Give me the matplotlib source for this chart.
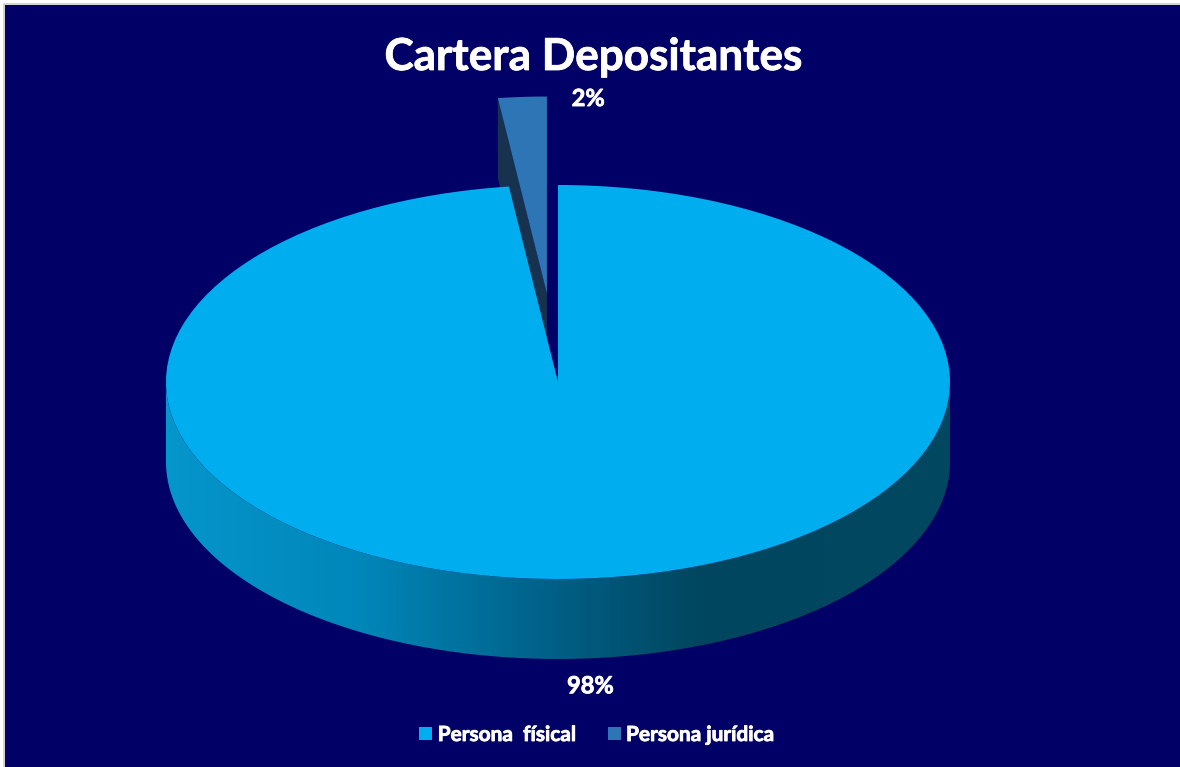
import numpy as np
import matplotlib
matplotlib.use('Agg')
import matplotlib.pyplot as plt
import matplotlib.patheffects as pe
from matplotlib.colors import LinearSegmentedColormap
from matplotlib.patches import Polygon, Rectangle

legend_labels = ['Persona  físical', 'Persona jurídica']
shares = [98, 2]
pct_labels = ['98%', '2%']

W, H = 1180, 767
NAVY = '#000066'
TOP_COLORS = ['#00aeef', '#2e75b6']
SIDE_DARK = '#16324f'
DEPTH = 0.406  # height of the pie wall, in pie radii

plt.rcParams['font.family'] = ['Lato', 'DejaVu Sans']
fig = plt.figure(figsize=(W / 100, H / 100), dpi=100, facecolor='white')

# navy panel with the grey edge on top and left
fig.patches.append(Rectangle((3, 0), W - 3, H - 3, transform=None, fc='#d4d4d4', ec='none', zorder=-3))
fig.patches.append(Rectangle((5, 0), W - 5, H - 5, transform=None, fc=NAVY, ec='none', zorder=-2))

# axes placed so the unit pie becomes an ellipse 392 x 197 px around (558, 382)
cx, cy, rx, ry = 558, 382, 392, 197
ax = fig.add_axes([0, 0, 1, 1])
ax.patch.set_alpha(0)
wedges, _ = ax.pie(shares, colors=TOP_COLORS, startangle=90, counterclock=False,
                   explode=[0, 0.45], radius=1, wedgeprops={'linewidth': 0})
main, small = wedges
main.set_zorder(5)
small.set_zorder(4)

# outer wall of the big slice, shaded left to right
t = np.linspace(np.pi, 2 * np.pi, 200)
xs, ys = np.cos(t), np.sin(t)
wall = np.column_stack([np.r_[xs, xs[::-1]], np.r_[ys, ys[::-1] - DEPTH]])
cmap = LinearSegmentedColormap.from_list('wall', [
    (0.0, '#0596cb'), (0.25, '#0086b9'), (0.5, '#005f85'),
    (0.68, '#00465f'), (1.0, '#00485f')])
im = ax.imshow(np.linspace(0, 1, 256)[None, :], cmap=cmap, aspect='auto',
               extent=(-1, 1, -1 - DEPTH, 0), zorder=2)
im.set_clip_path(Polygon(wall, transform=ax.transData))
ax.set_aspect('auto')
ax.set_xlim(-cx / rx, (W - cx) / rx)
ax.set_ylim(-(H - cy) / ry, cy / ry)
ax.axis('off')

# cut face of the exploded slice, hanging below its left edge
sc = np.array(small.center)
ang = np.deg2rad(max(small.theta1, small.theta2))
corner = sc + [np.cos(ang), np.sin(ang)]
face = np.array([corner, sc, sc - [0, DEPTH], corner - [0, DEPTH]])
ax.add_patch(Polygon(face, fc=SIDE_DARK, ec='none', zorder=3))

# Lato bold is a little light here, thicken it with a thin stroke
heavy = [pe.withStroke(linewidth=0.6, foreground='white')]

ax.text(0.077, 1.439, pct_labels[1], color='white', fontsize=17, fontweight='bold',
        ha='center', va='center', zorder=6, path_effects=heavy)
ax.text(0.0825, -1.542, pct_labels[0], color='white', fontsize=17, fontweight='bold',
        ha='center', va='center', zorder=6, path_effects=heavy)

fig.text(593 / W, 1 - 57 / H, 'Cartera Depositantes', color='white', fontsize=31.7,
         fontweight='bold', ha='center', va='center', path_effects=heavy)

leg = fig.legend(handles=wedges, labels=legend_labels, loc='center', ncol=2,
                 bbox_to_anchor=(597 / W, 1 - 735 / H), frameon=False,
                 handlelength=0.63, handleheight=0.63, handletextpad=0.25, columnspacing=1.5,
                 labelcolor='white', prop={'weight': 'bold', 'size': 15})
for txt in leg.get_texts():
    txt.set_path_effects(heavy)

fig.savefig('out.png', dpi=100, facecolor=fig.get_facecolor())
